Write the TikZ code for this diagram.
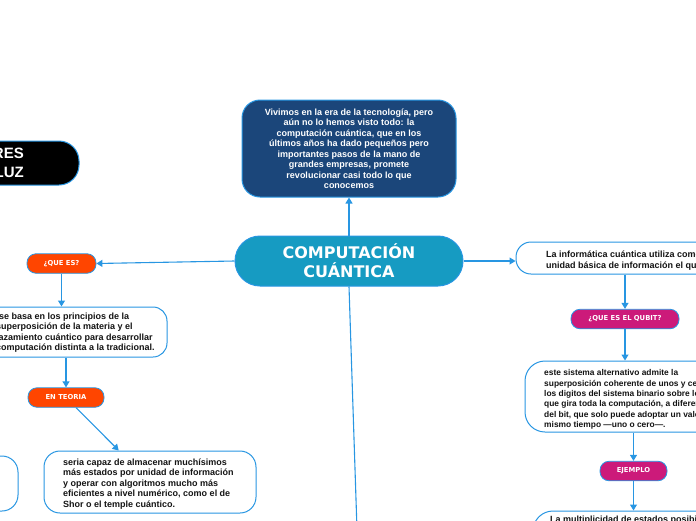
\documentclass[tikz,border=0pt]{standalone}
\usepackage{fontspec}
\setmainfont{Liberation Sans}
\newfontfamily\vfont{DejaVu Sans}
\usetikzlibrary{arrows.meta,calc}
\definecolor{navy}{RGB}{27,70,122}
\definecolor{teal}{RGB}{22,155,194}
\definecolor{magen}{RGB}{204,26,122}
\definecolor{orng}{RGB}{255,69,0}
\definecolor{edge}{RGB}{40,150,226}
\definecolor{ink}{RGB}{20,20,20}
\begin{document}
\begin{tikzpicture}[x=1pt,y=-1pt,
  box/.style={draw=edge, line width=1pt, rounded corners=14pt, fill=white, inner sep=0pt},
  txt/.style={font=\bfseries\fontsize{9}{10.5}\selectfont, align=left, text=ink, inner sep=0pt},
  tag/.style={draw=edge, line width=0.8pt, rounded corners=9pt, font=\vfont\bfseries\fontsize{6.8}{8}\selectfont, text=white, inner sep=0pt, minimum height=19.5pt},
  link/.style={draw=edge, line width=1.1pt, -{Triangle[length=6pt,width=7pt]}},
  plain/.style={draw=edge, line width=1.1pt}]
\useasboundingbox (0,0) rectangle (696,520);
\clip (0,0) rectangle (696,520);

% central
\node[draw=edge, line width=1pt, fill=teal, rounded corners=25pt, minimum width=228pt, minimum height=50pt, inner sep=0pt,
  font=\vfont\bfseries\fontsize{16}{19}\selectfont, text=white, align=center] (core) at (349,261) {COMPUTACIÓN\\CUÁNTICA};

% top box
\node[draw=edge, line width=1pt, fill=navy, rounded corners=18pt, minimum width=214pt, minimum height=97pt, inner sep=0pt,
  font=\bfseries\fontsize{9}{10.5}\selectfont, text=white, align=center] (intro) at (349,148.5)
  {Vivimos en la era de la tecnología, pero\\aún no lo hemos visto todo: la\\computación cuántica, que en los\\últimos años ha dado pequeños pero\\importantes pasos de la mano de\\grandes empresas, promete\\revolucionar casi todo lo que\\conocemos};

% black box (top left)
\node[draw=edge, line width=1pt, fill=black, rounded corners=20pt, minimum width=179pt, minimum height=44pt] (luzbox) at (-10.5,163) {};
\node[font=\bfseries\fontsize{15}{19}\selectfont, text=white, align=right, inner sep=0pt, anchor=north east] (luztxt) at (24,148) {RES\\LUZ\hspace{3pt}};

% left branch
\node[tag, fill=orng, minimum width=69pt] (quees) at (61.5,263.5) {¿QUE ES?};
\node[box, minimum width=317pt, minimum height=50pt] (sebasa) at (8.5,332) {};
\node[txt, anchor=north west] (sebasatxt) at (-4,312.5)
  {\hspace{3pt}se basa en los principios de la\\superposición de la materia y el\\\llap{entre}lazamiento cuántico para desarrollar\\computación distinta a la tradicional.};
\node[tag, fill=orng, minimum width=76pt] (teoria) at (66,397.5) {EN TEORIA};
\node[box, rounded corners=16pt, minimum width=212pt, minimum height=62pt] (seria) at (150,482) {};
\node[txt, anchor=north west] (seriatxt) at (63,458.5)
  {seria capaz de almacenar muchísimos\\más estados por unidad de información\\y operar con algoritmos mucho más\\eficientes a nivel numérico, como el de\\Shor o el temple cuántico.};
\node[box, rounded corners=16pt, minimum width=168pt, minimum height=55pt] (leftlow) at (-66,483.5) {};

% right branch
\node[box, rounded corners=15pt, minimum width=320pt, minimum height=32pt] (inf) at (676,258) {};
\node[txt, anchor=north west] (inftxt) at (546,251)
  {La informática cuántica utiliza como\\unidad básica de información el qubit,};
\node[tag, fill=magen, minimum width=108pt] (qubit) at (625,319) {¿QUE ES EL QUBIT?};
\node[box, rounded corners=20pt, minimum width=320pt, minimum height=71pt] (qbox) at (685,396.5) {};
\node[txt, font=\bfseries\fontsize{8.4}{10.4}\selectfont, anchor=north west] (qtxt) at (544,369.5)
  {este sistema alternativo admite la\\superposición coherente de unos y ceros,\\los digitos del sistema binario sobre los\\que gira toda la computación, a diferencia\\del bit, que solo puede adoptar un valor al\\mismo tiempo ---uno o cero---.};
\node[tag, fill=magen, minimum width=67pt] (ejemplo) at (633.5,471) {EJEMPLO};
\node[box, rounded corners=20pt, minimum width=320pt, minimum height=69pt] (mbox) at (693,545.5) {};
\node[txt, anchor=north west] (mtxt) at (550,516) {La multiplicidad de estados posibilita};

% connectors
\coordinate (down) at (358,560);
\draw[link] (core) -- (intro);
\draw[link] (core.west) -- (quees.east);
\draw[link] (core.east) -- (inf.west |- core.east);
\draw[plain] (core.south) -- (down);
\draw[link] (quees.south) -- (quees.south |- sebasa.north);
\draw[link] (teoria.north |- sebasa.south) -- (teoria.north);
\draw[link] (teoria) -- (seria);
\draw[link] (qubit.north |- inf.south) -- (qubit.north);
\draw[link] (qubit.south) -- (qubit.south |- qbox.north);
\draw[link] (ejemplo.north |- qbox.south) -- (ejemplo.north);
\draw[link] (ejemplo.south) -- (ejemplo.south |- mbox.north);
\end{tikzpicture}
\end{document}
